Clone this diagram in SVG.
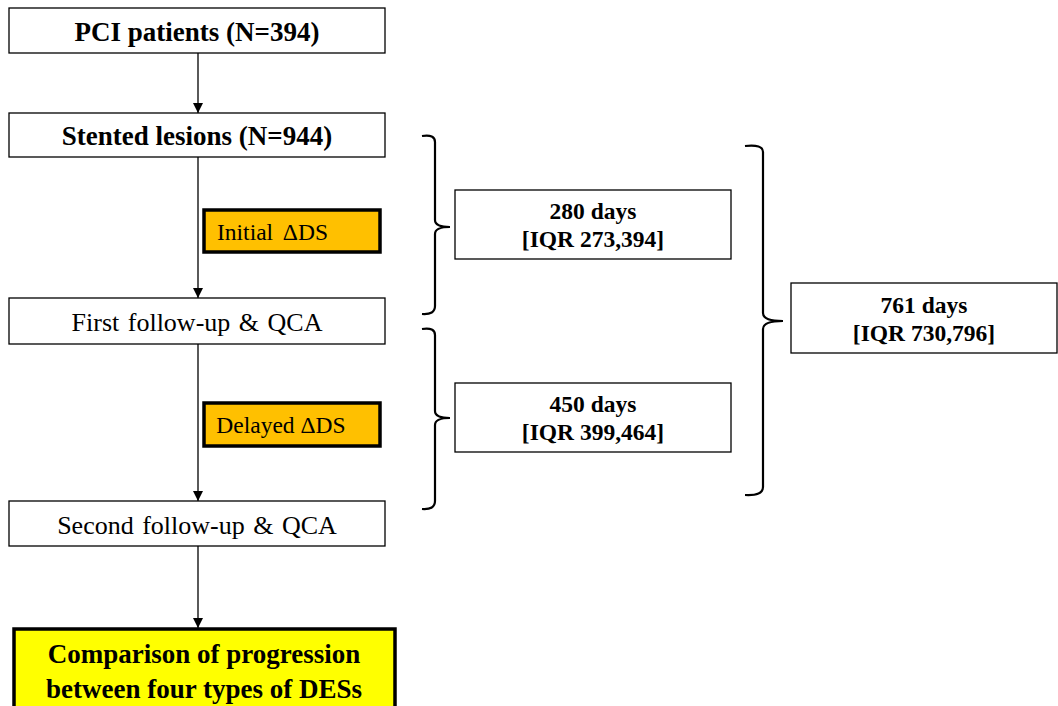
<svg xmlns="http://www.w3.org/2000/svg" width="1058" height="706" viewBox="0 0 1058 706">
<defs>
<marker id="ah" viewBox="0 0 10 10" refX="10" refY="5" markerWidth="10" markerHeight="10" markerUnits="userSpaceOnUse" orient="auto">
<path d="M0,0 L10,5 L0,10 z" fill="#000"/>
</marker>
<style>
.box{fill:#fff;stroke:#000;stroke-width:1.3}
.ds{fill:#FFC000;stroke:#000;stroke-width:3.5}
.fin{fill:#FFFF00;stroke:#000;stroke-width:3.5}
.t{font-family:"Liberation Serif","Times New Roman",serif;fill:#000;text-anchor:middle}
.s{text-anchor:start}
.e{text-anchor:end}
.b{font-weight:bold}
.brace{fill:none;stroke:#000;stroke-width:2.2}
.con{stroke:#000;stroke-width:1.3;fill:none}
</style>
</defs>
<rect width="1058" height="706" fill="#fff"/>
<g id="connectors">
<line class="con" x1="198" y1="53" x2="198" y2="113" marker-end="url(#ah)"/>
<line class="con" x1="198" y1="157" x2="198" y2="298" marker-end="url(#ah)"/>
<line class="con" x1="198" y1="344" x2="198" y2="501" marker-end="url(#ah)"/>
<line class="con" x1="198" y1="546" x2="198" y2="628" marker-end="url(#ah)"/>
</g>
<g id="n1"><rect class="box" x="9" y="8" width="376" height="45"/><text class="t b" x="197" y="41" font-size="27">PCI patients (N=394)</text></g>
<g id="n2"><rect class="box" x="9" y="113" width="376" height="44"/><text class="t b" x="197" y="145" font-size="27">Stented lesions (N=944)</text></g>
<g id="n3"><rect class="box" x="9" y="298" width="376" height="46"/><text class="t" x="197" y="331" font-size="26" word-spacing="2">First follow-up &amp; QCA</text></g>
<g id="n4"><rect class="box" x="9" y="501" width="376" height="45"/><text class="t" x="197" y="534" font-size="26" word-spacing="2">Second follow-up &amp; QCA</text></g>
<g id="n5"><rect class="fin" x="14" y="629" width="381" height="80"/><text class="t b" x="204" y="663" font-size="27">Comparison of progression</text><text class="t b" x="204" y="698" font-size="27">between four types of DESs</text></g>
<g id="ds1"><rect class="ds" x="204" y="210" width="176" height="42"/><text class="t s" x="217" y="240" font-size="23.5">Initial</text><text class="t e" x="328" y="240" font-size="23.5">ΔDS</text></g>
<g id="ds2"><rect class="ds" x="204" y="403" width="176" height="43"/><text class="t" x="281" y="433" font-size="23.5">Delayed ΔDS</text></g>
<g id="d280"><rect class="box" x="455" y="190" width="276" height="69"/><text class="t b" x="593" y="219" font-size="23.5">280 days</text><text class="t b" x="593" y="247" font-size="23.5">[IQR 273,394]</text></g>
<g id="d450"><rect class="box" x="455" y="383" width="276" height="69"/><text class="t b" x="593" y="412" font-size="23.5">450 days</text><text class="t b" x="593" y="440" font-size="23.5">[IQR 399,464]</text></g>
<g id="d761"><rect class="box" x="791" y="283" width="266" height="70"/><text class="t b" x="924" y="313" font-size="23.5">761 days</text><text class="t b" x="924" y="341" font-size="23.5">[IQR 730,796]</text></g>
<g id="braces">
<path class="brace" d="M422,136 Q435,134 435,142 L435,220 Q435,227 450,227 Q435,227 435,234 L435,306 Q435,315 422,314"/>
<path class="brace" d="M422,329 Q435,327 435,335 L435,411 Q435,418 450,418 Q435,418 435,425 L435,501 Q435,510 422,509"/>
<path class="brace" d="M745,146 Q763,144 763,152 L763,313 Q763,321 783,321 Q763,321 763,329 L763,487 Q763,496 745,495"/>
</g>
</svg>
